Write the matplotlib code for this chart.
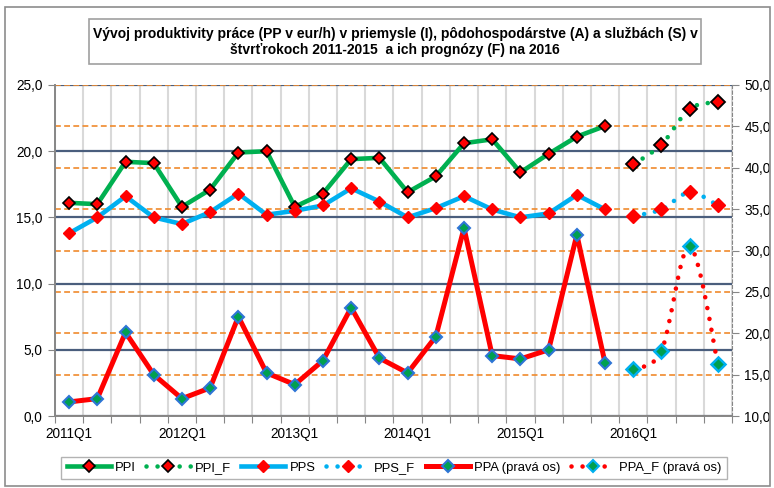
import numpy as np
import matplotlib
matplotlib.use("Agg")
import matplotlib.pyplot as plt
from matplotlib import font_manager
from matplotlib.path import Path
from matplotlib.patches import PathPatch, Rectangle
from matplotlib.lines import Line2D

# data: 2011Q1 .. 2015Q4 actuals, 2016Q1 .. 2016Q4 forecasts
ppi = [16.1, 16.0, 19.2, 19.1, 15.8, 17.1, 19.9, 20.0, 15.8, 16.8,
       19.4, 19.5, 16.9, 18.1, 20.6, 20.9, 18.4, 19.8, 21.1, 21.9]
ppi_f = [19.0, 20.5, 23.2, 23.7]
pps = [13.8, 15.0, 16.6, 15.0, 14.5, 15.4, 16.8, 15.2, 15.5, 15.9,
       17.2, 16.2, 15.0, 15.7, 16.6, 15.6, 15.0, 15.3, 16.7, 15.6]
pps_f = [15.1, 15.6, 16.9, 15.9]
ppa = [11.7, 12.1, 20.1, 15.0, 12.1, 13.4, 22.0, 15.2, 13.8, 16.7,
       23.1, 17.0, 15.2, 19.6, 32.7, 17.3, 16.9, 18.0, 31.9, 16.4]
ppa_f = [15.7, 17.9, 30.5, 16.3]
quarter_labels = ["2011Q1", "2012Q1", "2013Q1", "2014Q1", "2015Q1", "2016Q1"]
legend_labels = ["PPI", "PPI_F", "PPS", "PPS_F", "PPA (pravá os)", "PPA_F (pravá os)"]

TITLE = ("Vývoj produktivity práce (PP v eur/h) v priemysle (I), pôdohospodárstve (A) a službách (S) v\n"
         "štvrťrokoch 2011-2015  a ich prognózy (F) na 2016")

GREEN = "#00B050"
CYAN = "#00B0F0"
RED = "#FF0000"
NAVY = "#4A5E7D"
ORANGE = "#F08A2C"
GRAY = "#868686"
DOTS = (0, (0.01, 2.4))

names = {f.name for f in font_manager.fontManager.ttflist}
if "Liberation Sans Narrow" in names:
    FONT, FS, TFS, LFS = "Liberation Sans Narrow", 10.5, 11, 10.5
else:
    FONT, FS, TFS, LFS = "Liberation Sans", 9.8, 10, 9.4
plt.rcParams["font.family"] = [FONT, "DejaVu Sans"]


def smooth_patch(x, y, color, transform):
    """Excel-like smoothed line as a cubic bezier path."""
    n = len(x)
    verts = [(x[0], y[0])]
    codes = [Path.MOVETO]
    for i in range(n - 1):
        a = i - 1 if i > 0 else i
        b = i + 2 if i + 2 < n else i + 1
        c1 = (x[i] + (x[i + 1] - x[a]) / 6, y[i] + (y[i + 1] - y[a]) / 6)
        c2 = (x[i + 1] - (x[b] - x[i]) / 6, y[i + 1] - (y[b] - y[i]) / 6)
        verts += [c1, c2, (x[i + 1], y[i + 1])]
        codes += [Path.CURVE4] * 3
    patch = PathPatch(Path(verts, codes), fill=False, edgecolor=color, lw=3.3,
                      linestyle=DOTS, transform=transform, zorder=3)
    patch.set_capstyle("round")
    return patch


xs = np.arange(len(ppi)) + 0.5
xf = np.arange(len(ppi), len(ppi) + len(ppi_f)) + 0.5

fig = plt.figure(figsize=(7.74, 4.88), dpi=100)
ax = fig.add_axes([55 / 774, 1 - 416 / 488, (732 - 55) / 774, (416 - 85) / 488])
ax2 = ax.twinx()

ax.set_xlim(0, 24)
ax.set_ylim(0, 25)
ax2.set_ylim(10, 50)

# gridlines
ax.grid(axis="y", color=NAVY, lw=1.6, zorder=0)
ax.grid(axis="x", which="major", color="#D9D9D9", lw=1.5, zorder=0)
ax.set_axisbelow(True)
for v in np.arange(10, 51, 5):
    ax.plot([0, 24], [v, v], transform=ax2.transData, color=ORANGE, lw=1.2,
            ls=(0, (3.5, 2)), zorder=1.5)

# left axis series
ax.plot(xs, ppi, color=GREEN, lw=3.3, zorder=3, marker="D", ms=6,
        mfc=RED, mec="black", mew=1.2)
ax.plot(xs, pps, color=CYAN, lw=3.3, zorder=3, marker="D", ms=6,
        mfc=RED, mec=RED)
ax.add_patch(smooth_patch(xf, ppi_f, GREEN, ax.transData))
ax.add_patch(smooth_patch(xf, pps_f, CYAN, ax.transData))
ax.plot(xf, ppi_f, ls="none", marker="D", ms=7.5, mfc=RED, mec="black", mew=1.3, zorder=4)
ax.plot(xf, pps_f, ls="none", marker="D", ms=7.5, mfc=RED, mec=RED, zorder=4)

# right axis series
ax2.plot(xs, ppa, color=RED, lw=3.6, zorder=3, marker="D", ms=6,
         mfc="#00A050", mec="#2E75D6", mew=1.5)
ax2.add_patch(smooth_patch(xf, ppa_f, RED, ax2.transData))
ax2.plot(xf, ppa_f, ls="none", marker="D", ms=7.5, mfc="#00A050", mec=CYAN, mew=1.8, zorder=4)

# axes styling
ax.set_xticks(range(25))
ax.set_xticklabels([])
ax.set_xticks(np.arange(0, 24, 4) + 0.5, minor=True)
ax.set_xticklabels(quarter_labels, minor=True)
ax.tick_params(axis="x", which="major", direction="out", length=5, color=GRAY)
ax.tick_params(axis="x", which="minor", length=0, pad=8, labelsize=FS)
ax.set_yticks(np.arange(0, 26, 5))
ax.set_yticklabels([f"{v:.1f}".replace(".", ",") for v in np.arange(0, 26, 5)])
ax.tick_params(axis="y", direction="out", length=5, color=GRAY, labelsize=FS, pad=4)
ax2.set_yticks(np.arange(10, 51, 5))
ax2.set_yticklabels([f"{v:.1f}".replace(".", ",") for v in np.arange(10, 51, 5)])
ax2.tick_params(axis="y", direction="out", length=5, color=GRAY, labelsize=FS, pad=4)

for s in ["top", "right"]:
    ax.spines[s].set_visible(False)
for s in ["top", "left", "bottom"]:
    ax2.spines[s].set_visible(False)
ax.spines["left"].set_color(GRAY)
ax.spines["left"].set_linewidth(1.4)
ax.spines["bottom"].set_color(GRAY)
ax.spines["bottom"].set_linewidth(1.4)
ax2.spines["right"].set_color(GRAY)
ax2.spines["right"].set_linestyle((0, (3, 2)))

# title box and outer frame
fig.patches.append(Rectangle((5 / 774, 1 - 486 / 488), 765 / 774, 479 / 488,
                             transform=fig.transFigure, fill=False,
                             edgecolor="#8C8C8C", lw=1.2))
fig.patches.append(Rectangle((89 / 774, 1 - 64 / 488), 612 / 774, 45 / 488,
                             transform=fig.transFigure, fill=False,
                             edgecolor="#A0A0A0", lw=1.2))
fig.text(395 / 774, 1 - 42 / 488, TITLE, ha="center", va="center",
         fontsize=TFS, fontweight="bold", linespacing=1.2)

# legend
handles = [
    Line2D([], [], color=GREEN, lw=3.3, marker="D", ms=6, mfc=RED, mec="black", mew=1.2),
    Line2D([], [], color=GREEN, lw=3.3, ls=DOTS, dash_capstyle="round",
           marker="D", ms=6, mfc=RED, mec="black", mew=1.2),
    Line2D([], [], color=CYAN, lw=3.3, marker="D", ms=6, mfc=RED, mec=RED),
    Line2D([], [], color=CYAN, lw=3.3, ls=DOTS, dash_capstyle="round",
           marker="D", ms=6, mfc=RED, mec=RED),
    Line2D([], [], color=RED, lw=3.6, marker="D", ms=6, mfc="#00A050", mec="#2E75D6", mew=1.5),
    Line2D([], [], color=RED, lw=3.3, ls=DOTS, dash_capstyle="round",
           marker="D", ms=6, mfc="#00A050", mec=CYAN, mew=1.5),
]
fig.legend(handles, legend_labels, loc="center", bbox_to_anchor=(394 / 774, 1 - 468 / 488),
           ncol=6, numpoints=1, handlelength=3.4, handletextpad=0.3, columnspacing=0.8,
           fontsize=LFS, frameon=True, fancybox=False, edgecolor="#A0A0A0", borderpad=0.4)

fig.savefig("out.png", dpi=100)
